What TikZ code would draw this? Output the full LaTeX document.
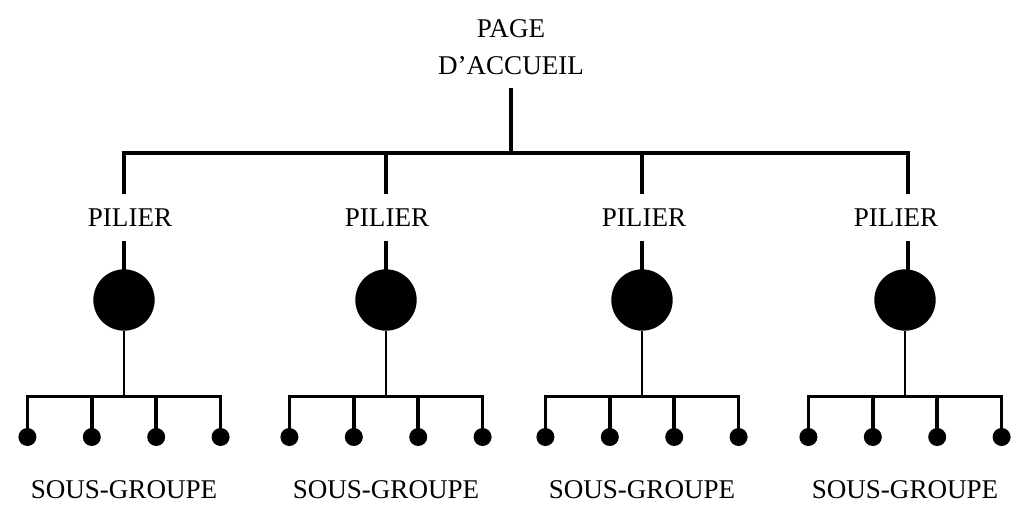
\documentclass[tikz,border=0pt]{standalone}
\usepackage{fontspec}
\setmainfont{Liberation Serif}

\begin{document}
\begin{tikzpicture}
[
	x=0.75pt,
	y=-0.75pt,
	txt/.style={font=\fontsize{20.3}{27.75}\selectfont,inner sep=0pt},
	pilier/.style={txt,minimum height=34.5pt},
	bigpt/.style={circle,fill,inner sep=0pt,minimum size=46pt},
	smallpt/.style={circle,fill,inner sep=0pt,minimum size=13.5pt},
	thickline/.style={line width=3pt},
	subline/.style={line width=2.7pt},
	thinline/.style={line width=1.6pt}
]
	\useasboundingbox (0,0) rectangle (1024,525);

	% home page
	\node[txt,align=center,inner ysep=9.75pt] (home) at (511,47.5) {PAGE\\D’ACCUEIL};

	% pillars, circles and sub-groups
	\foreach \i/\bx/\px/\cx in {1/124/130/124, 2/386/387/386, 3/642/644/642, 4/908/896/905}
	{
		\coordinate (b\i) at (\bx,153);
		\node[pilier] (p\i) at (\px,217.5) {PILIER};
		\node[bigpt] (c\i) at (\cx,300) {};
		\coordinate (j\i) at (\cx,396.5);
		\foreach \k in {1,...,4}
			\node[smallpt] (d\i\k) at ({\cx+(\k-2.5)*64.4},437) {};
		\node[txt] (s\i) at (\cx,490) {SOUS-GROUPE};
	}

	% top bar
	\draw[thickline] (home.south) -- (home.south |- b1);
	\draw[thickline] (b1 |- p1.north) -- (b1) -- (b4) -- (b4 |- p4.north);
	\draw[thickline] (b2) -- (b2 |- p2.north);
	\draw[thickline] (b3) -- (b3 |- p3.north);

	\foreach \i in {1,...,4}
	{
		\draw[thickline] (b\i |- p\i.south) -- (b\i |- c\i.center);
		\draw[thinline] (c\i.south) -- (j\i);
		\draw[subline] (d\i1.center) -- (d\i1 |- j\i) -- (d\i4 |- j\i) -- (d\i4.center);
		\draw[subline] (d\i2 |- j\i) -- (d\i2.center);
		\draw[subline] (d\i3 |- j\i) -- (d\i3.center);
	}

\end{tikzpicture}
\end{document}
